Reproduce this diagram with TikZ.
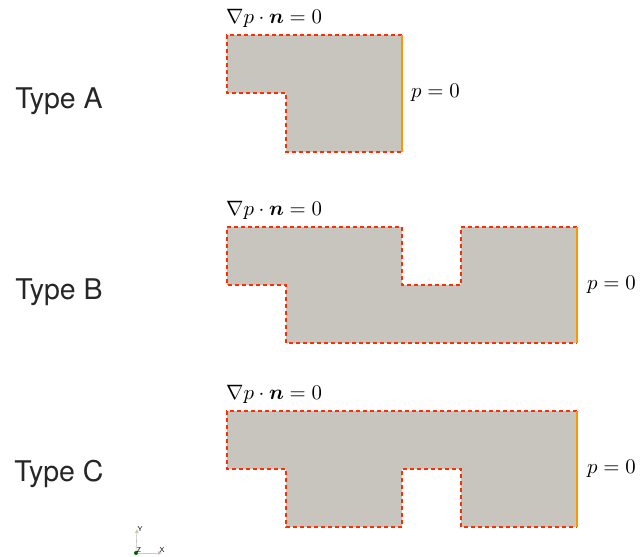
\documentclass[tikz,border=0pt]{standalone}
\usepackage{fontspec}
\usepackage{graphicx}
\usepackage{amsmath,bm}
\newfontfamily\labelfont{TeX Gyre Heros}
\usetikzlibrary{positioning,calc,arrows.meta}
\definecolor{domgrey}{RGB}{200,197,190}
\definecolor{wallred}{RGB}{255,45,0}
\definecolor{outorange}{RGB}{255,150,0}
\newcommand{\bcmath}[1]{\scalebox{2.08}{$#1$}}
\begin{document}
\begin{tikzpicture}[
        x=1pt, y=-1pt,
        fluid/.style={fill=domgrey, draw=none},
        wall/.style={draw=wallred, line width=2.4pt, dash pattern=on 4pt off 3pt},
        outlet/.style={draw=outorange, line width=2pt},
        typelabel/.style={font=\labelfont\fontsize{28.5}{30}\selectfont, text=black!85},
        bclabel/.style={font=\normalsize, inner sep=1pt},
        axis/.style={line width=0.6pt, -{Latex[length=4pt,width=4pt]}}
    ]
        \useasboundingbox (0,0) rectangle (641,557);

        % Type A
        \fill[fluid] (227,35) -- (402,35) -- (402,152) -- (286,152) -- (286,93) -- (227,93) -- cycle;
        \draw[wall] (402,35) -- (227,35) -- (227,93) -- (286,93) -- (286,152) -- (402,152);
        \draw[outlet] (402,35) -- (402,152);
        \node[typelabel] (typeA) at (59,101) {Type A};
        \node[bclabel, anchor=south west] (wallA) at (225,29) {\bcmath{\nabla p \cdot \bm{n} = 0}};
        \node[bclabel, anchor=west] (outA) at (410,93) {\bcmath{p = 0}};

        % Type B
        \fill[fluid] (227,227) -- (402,227) -- (402,285) -- (461,285) -- (461,227) -- (577,227)
            -- (577,343) -- (286,343) -- (286,285) -- (227,285) -- cycle;
        \draw[wall] (577,227) -- (461,227) -- (461,285) -- (402,285) -- (402,227) -- (227,227)
            -- (227,285) -- (286,285) -- (286,343) -- (577,343);
        \draw[outlet] (577,227) -- (577,343);
        \node[typelabel] (typeB) at (59,292) {Type B};
        \node[bclabel, anchor=south west] (wallB) at (225,221) {\bcmath{\nabla p \cdot \bm{n} = 0}};
        \node[bclabel, anchor=west] (outB) at (586,285) {\bcmath{p = 0}};

        % Type C
        \fill[fluid] (227,411) -- (577,411) -- (577,527) -- (461,527) -- (461,469) -- (402,469)
            -- (402,527) -- (286,527) -- (286,469) -- (227,469) -- cycle;
        \draw[wall] (577,411) -- (227,411) -- (227,469) -- (286,469) -- (286,527) -- (402,527)
            -- (402,469) -- (461,469) -- (461,527) -- (577,527);
        \draw[outlet] (577,411) -- (577,527);
        \node[typelabel] (typeC) at (59,474) {Type C};
        \node[bclabel, anchor=south west] (wallC) at (225,405) {\bcmath{\nabla p \cdot \bm{n} = 0}};
        \node[bclabel, anchor=west] (outC) at (586,469) {\bcmath{p = 0}};

        % Achsen
        \coordinate (origin) at (136,553);
        \coordinate (yend) at (137,529);
        \coordinate (xend) at (162,553);
        \draw[axis, black!25, -{Latex[length=4pt,width=4pt,fill=yellow!80!orange]}] (origin) -- (yend);
        \draw[axis, black!20, -{Latex[length=4pt,width=4pt,fill=red]}] (origin) -- (xend);
        \fill[green!40!black] (origin) circle (2pt);
        \node[font=\sffamily\fontsize{7}{7}\selectfont, right=0pt of yend, inner sep=0.5pt] (ylab) {Y};
        \node[font=\sffamily\fontsize{7}{7}\selectfont, above right=0pt and 0pt of origin, inner sep=0.5pt] (zlab) {Z};
        \node[font=\sffamily\fontsize{7}{7}\selectfont, above=0pt of xend, inner sep=0.5pt] (xlab) {X};
\end{tikzpicture}
\end{document}
